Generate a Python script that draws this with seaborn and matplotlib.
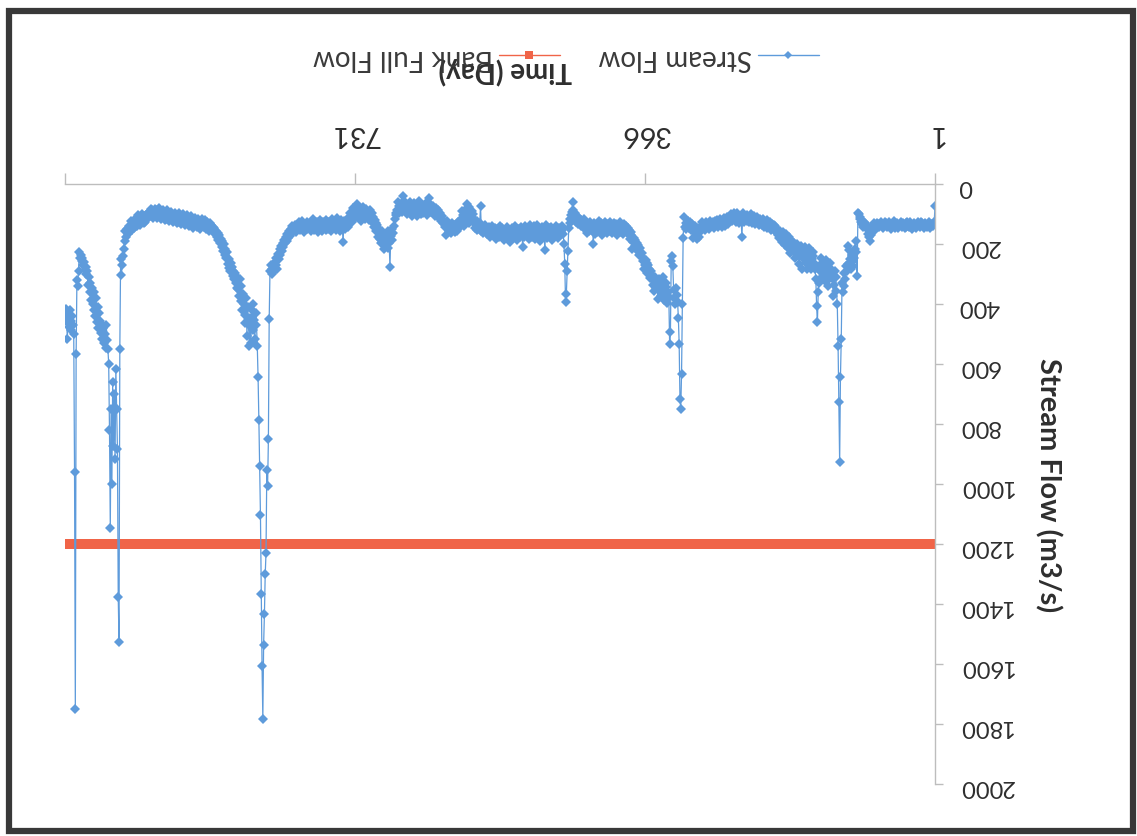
import numpy as np
import pandas as pd
import matplotlib
matplotlib.use("Agg")
import matplotlib.pyplot as plt
from matplotlib.lines import Line2D
from matplotlib.patches import Rectangle
import seaborn as sns

# ---------------- data (daily stream flow, m3/s) ----------------
flow_year1 = [
    73, 128, 136, 141, 132, 138, 145, 130, 126, 139, 142, 135, 129, 137, 148, 140, 131, 127, 136, 143,
    138, 132, 125, 140, 147, 136, 129, 134, 141, 150, 137, 128, 133, 144, 139, 126, 131, 142, 146, 135,
    130, 138, 143, 127, 134, 140, 148, 136, 129, 133, 145, 139, 124, 131, 137, 142, 150, 134, 128, 139,
    144, 136, 130, 127, 141, 147, 138, 132, 125, 135, 143, 140, 133, 129, 146, 152, 139, 131, 136, 148,
    158, 171, 190, 178, 165, 149, 142, 136, 131, 128, 138, 144, 133, 126, 118, 110, 100, 95, 307, 228,
    189, 215, 245, 272, 260, 238, 283, 251, 220, 206, 268, 290, 272, 317, 339, 295, 361, 330, 517, 644,
    928, 728, 539, 400, 355, 310, 290, 335, 372, 316, 288, 305, 262, 317, 298, 340, 276, 252, 300, 322,
    285, 263, 310, 294, 248, 271, 330, 360, 461, 407, 317, 283, 262, 240, 228, 250, 283, 270, 236, 214,
    245, 283, 262, 228, 210, 251, 236, 283, 220, 205, 240, 266, 231, 218, 200, 232, 248, 214, 196, 221,
    205, 188, 230, 199, 176, 214, 190, 172, 168, 203, 185, 161, 174, 192, 166, 158, 180, 171, 154, 162,
    150, 141, 158, 137, 146, 132, 144, 152, 128, 139, 135, 121, 147, 133, 126, 142, 118, 131, 137, 124,
    115, 129, 136, 120, 110, 127, 133, 118, 106, 124, 131, 113, 101, 119, 128, 112, 104, 122, 117, 109,
    126, 114, 98, 177, 121, 108, 116, 130, 103, 97, 118, 125, 111, 95, 107, 123, 119, 101, 112, 128,
    134, 117, 109, 125, 139, 121, 113, 130, 142, 126, 118, 135, 129, 144, 120, 131, 138, 124, 147, 133,
    127, 141, 136, 122, 149, 130, 143, 137, 125, 152, 139, 133, 145, 128, 156, 141, 150, 176, 162, 183,
    148, 170, 139, 158, 181, 144, 132, 153, 128, 140, 147, 122, 136, 151, 129, 143, 110, 180, 400, 633,
    750, 717, 533, 446, 392, 370, 345, 401, 380, 352, 273, 240, 255, 493, 533, 377, 360, 398, 342, 331,
    365, 387, 310, 352, 334, 372, 355, 318, 340, 383, 327, 345, 309, 322, 358, 336, 317, 301, 290, 312,
    283, 270, 295, 262, 252,
]

flow_year2 = [
    270, 283, 248, 256, 231, 240, 212, 225, 236, 204, 196, 218, 188, 205, 179, 192, 217, 171, 160, 183,
    152, 168, 145, 161, 139, 157, 148, 133, 166, 142, 151, 128, 160, 137, 146, 171, 134, 155, 143, 129,
    150, 162, 138, 147, 125, 156, 141, 133, 164, 149, 127, 158, 136, 145, 170, 131, 153, 140, 122, 148,
    159, 137, 144, 165, 129, 200, 151, 138, 146, 125, 157, 133, 141, 162, 128, 149, 136, 118, 143, 131,
    121, 139, 126, 112, 134, 117, 105, 128, 98, 110, 86, 60, 92, 104, 117, 131, 148, 223, 290, 367,
    393, 267, 200, 166, 152, 140, 158, 171, 146, 163, 180, 155, 139, 168, 177, 150, 162, 185, 143, 159,
    172, 148, 165, 181, 156, 138, 220, 167, 153, 175, 144, 161, 190, 149, 170, 158, 136, 166, 183, 152,
    141, 169, 177, 155, 163, 137, 184, 158, 146, 171, 160, 139, 175, 152, 210, 164, 143, 178, 157, 168,
    149, 186, 162, 140, 173, 155, 167, 181, 146, 159, 192, 170, 151, 163, 144, 178, 166, 153, 187, 160,
    148, 172, 158, 141, 175, 163, 150, 169, 182, 145, 157, 171, 139, 164, 152, 176, 143, 160, 154, 167,
    147, 158, 136, 150, 162, 141, 155, 73, 130, 148, 139, 124, 152, 133, 145, 118, 100, 126, 89, 112,
    94, 131, 78, 108, 67, 121, 98, 85, 140, 103, 91, 128, 115, 136, 148, 127, 155, 141, 133, 160,
    146, 138, 152, 129, 164, 143, 135, 158, 149, 122, 170, 137, 144, 126, 131, 115, 108, 124, 97, 112,
    88, 103, 95, 79, 106, 84, 99, 72, 91, 81, 68, 94, 45, 76, 102, 86, 63, 90, 74, 97,
    82, 69, 100, 87, 58, 92, 77, 105, 71, 85, 96, 64, 80, 107, 73, 89, 60, 94, 78, 83,
    101, 70, 88, 55, 40, 76, 92, 66, 84, 98, 72, 61, 87, 104, 95, 118, 140, 163, 150, 185,
    172, 277, 196, 158, 214, 180, 205, 167, 190, 217, 174, 155, 198, 183, 162, 149, 176, 138, 157, 131,
    120, 143, 109, 126, 97, 115, 88, 104, 121, 92, 110, 83, 99, 117, 94, 78, 106, 123, 89, 101,
    113, 85, 67, 96, 108,
]

flow_year3 = [
    92, 118, 104, 81, 126, 110, 97, 132, 121, 143, 115, 128, 150, 137, 124, 193, 141, 119, 134, 155,
    129, 146, 138, 112, 152, 133, 125, 148, 140, 117, 158, 131, 144, 127, 150, 139, 121, 154, 135, 146,
    128, 141, 157, 134, 120, 149, 137, 160, 126, 143, 131, 152, 139, 118, 147, 136, 156, 129, 142, 133,
    150, 125, 144, 138, 159, 131, 147, 122, 140, 153, 135, 128, 148, 141, 160, 137, 152, 145, 158, 140,
    165, 150, 172, 158, 180, 168, 190, 175, 198, 185, 210, 195, 222, 205, 238, 215, 250, 232, 283, 245,
    270, 260, 283, 292, 300, 283, 270, 290, 450, 851, 1007, 953, 1230, 1300, 1433, 1535, 1783, 1607, 1367, 1103,
    941, 785, 643, 540, 470, 430, 515, 452, 400, 488, 420, 530, 445, 540, 470, 410, 505, 380, 438, 462,
    400, 365, 420, 340, 390, 318, 372, 350, 345, 310, 330, 298, 317, 290, 305, 275, 262, 290, 250, 280,
    265, 228, 248, 215, 236, 200, 222, 190, 210, 182, 196, 170, 185, 162, 176, 155, 168, 148, 160, 142,
    153, 138, 147, 130, 158, 141, 126, 150, 135, 121, 144, 132, 118, 140, 127, 149, 136, 115, 131, 143,
    124, 138, 112, 129, 145, 120, 133, 108, 126, 141, 117, 130, 104, 122, 137, 113, 128, 100, 119, 134,
    110, 125, 98, 116, 131, 105, 121, 95, 113, 128, 102, 118, 92, 109, 124, 99, 115, 88, 106, 120,
    96, 111, 85, 103, 117, 90, 100, 80, 97, 112, 86, 104, 82, 99, 114, 88, 101, 84, 107, 93,
    110, 96, 118, 102, 125, 108, 131, 114, 99, 122, 136, 111, 127, 104, 140, 119, 133, 115, 146, 128,
    137, 152, 124, 145, 160, 141, 168, 150, 175, 158, 190, 215, 240, 270, 303, 250, 550, 1527, 1377, 883,
    750, 617, 917, 700, 873, 660, 1000, 750, 1147, 820, 600, 550, 520, 470, 545, 500, 530, 480, 515, 470,
    495, 455, 430, 480, 410, 460, 380, 440, 420, 360, 400, 345, 385, 330, 360, 310, 335, 290, 300, 275,
    285, 260, 270, 248, 255, 236, 245, 227, 290, 340, 320, 567, 1750, 960, 500, 470, 440, 485, 455, 420,
    475, 430, 517, 460, 417, 445,
]

bank_full_flow = 1200
x_tick_values = [1, 366, 731, 1096]
x_tick_labels = ["1", "366", "731", ""]
y_tick_values = list(range(0, 2001, 200))
series_names = ["Stream Flow", "Bank Full Flow"]
x_title = "Time (Day)"
y_title = "Stream Flow (m3/s)"

flow = flow_year1 + flow_year2 + flow_year3
days = np.arange(1, len(flow) + 1)
df = pd.DataFrame({"day": days, "flow": flow, "bank": bank_full_flow})

# ---------------- style ----------------
sns.set_theme(style="white")
plt.rcParams["font.family"] = ["Lato", "DejaVu Sans"]

BLUE = "#5E9BDB"
RED = "#F06448"
AXC = "#BDBDBD"
TXT = "#2E2E2E"

W, H = 1137, 837
fig = plt.figure(figsize=(W / 100, H / 100), dpi=100)
fig.patch.set_facecolor("white")
ax = fig.add_axes([65 / W, 1 - 785 / H, 870 / W, 600 / H])
ax.set_facecolor("white")

sns.lineplot(data=df, x="day", y="bank", ax=ax, color=RED, linewidth=1.0,
             marker="s", markersize=6.5, markeredgewidth=0, legend=False)
sns.lineplot(data=df, x="day", y="flow", ax=ax, color=BLUE, linewidth=0.9,
             marker="D", markersize=5.6, markeredgewidth=0, legend=False)

# the picture is upside down: invert both axes, axes on top/right, text rotated 180
ax.set_xlim(len(flow), 1)
ax.set_ylim(2000, 0)
ax.xaxis.tick_top()
ax.yaxis.tick_right()
ax.set_xticks(x_tick_values)
ax.set_xticklabels(x_tick_labels, rotation=180)
ax.set_yticks(y_tick_values)
ax.set_yticklabels([str(v) for v in y_tick_values], rotation=180)
ax.tick_params(axis="x", direction="out", length=8, width=1, color=AXC,
               pad=19, labelsize=20.5, labelcolor=TXT)
ax.tick_params(axis="y", direction="out", length=6, width=1, color=AXC,
               pad=11, labelsize=17, labelcolor=TXT)
for s in ["left", "bottom"]:
    ax.spines[s].set_visible(False)
for s in ["top", "right"]:
    ax.spines[s].set_visible(True)
    ax.spines[s].set_color(AXC)
    ax.spines[s].set_linewidth(1)
ax.grid(False)

ax.set_xlabel(x_title, rotation=180, fontsize=20, fontweight="bold", color=TXT,
              ha="center", va="center")
ax.xaxis.set_label_position("top")
ax.xaxis.set_label_coords((505 - 65) / 870, (785 - 80) / 600)
ax.set_ylabel(y_title, rotation=270, fontsize=21, fontweight="bold", color=TXT,
              ha="center", va="center")
ax.yaxis.set_label_position("right")
ax.yaxis.set_label_coords((1062 - 65) / 870, 0.5)

# legend (handles to the right of texts, as seen upside down)
h_bank = Line2D([], [], color=RED, lw=1.0, marker="s", markersize=6, markeredgewidth=0)
h_flow = Line2D([], [], color=BLUE, lw=1.0, marker="D", markersize=4.5, markeredgewidth=0)
leg = fig.legend([h_bank, h_flow], [series_names[1], series_names[0]], loc="center",
                 bbox_to_anchor=(566 / W, 1 - 58 / H), ncol=2, markerfirst=False,
                 frameon=False, fontsize=20, handlelength=2.2, handletextpad=0.2,
                 columnspacing=1.4)
for t in leg.get_texts():
    t.set_rotation(180)
    t.set_color("#3A3A3A")

# photo frame
fig.patches.append(Rectangle((9 / W, 5 / H), (1133 - 9) / W, (825 - 5) / H,
                             transform=fig.transFigure, fill=False,
                             linewidth=4.5, edgecolor="#383838"))

fig.savefig("out.png", dpi=100, facecolor="white")
